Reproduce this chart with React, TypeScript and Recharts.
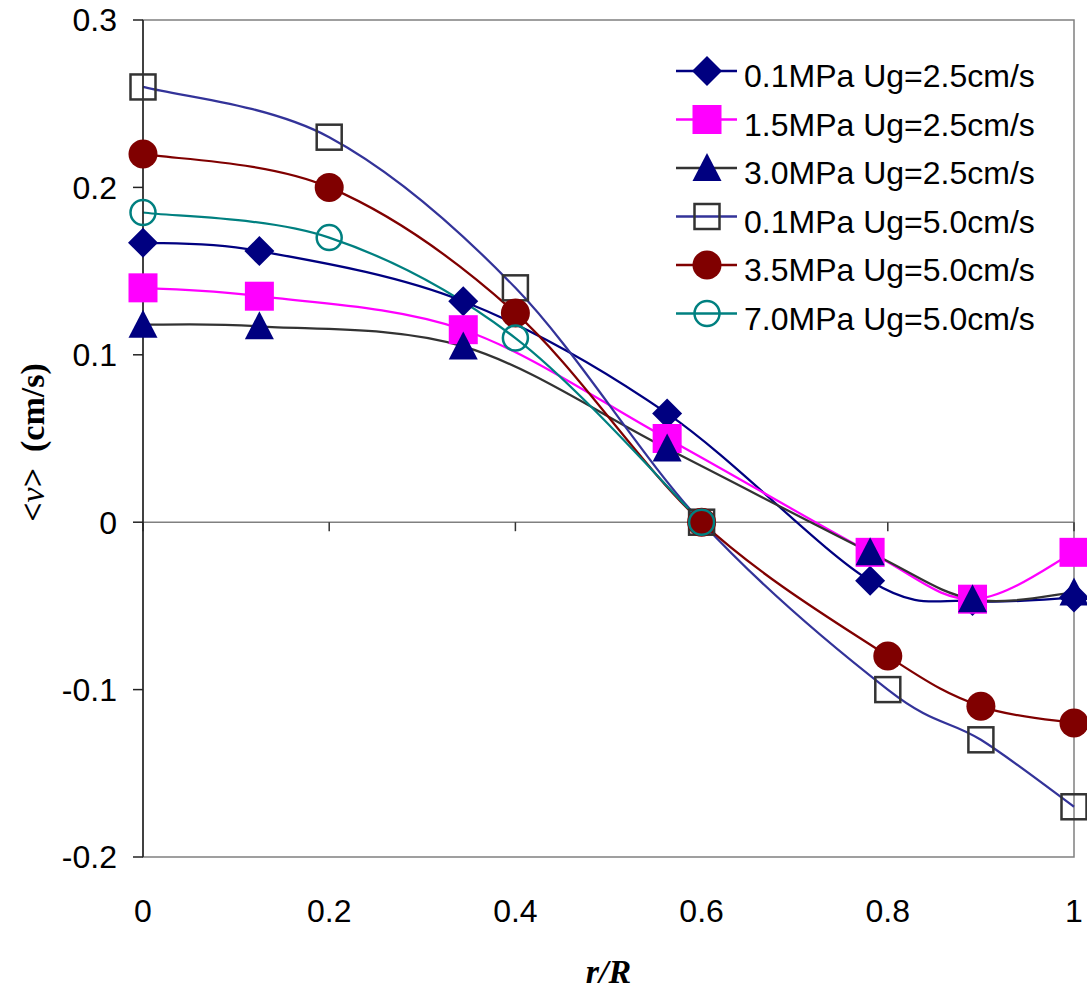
import { LineChart, Line, XAxis, YAxis, ReferenceLine, ReferenceArea, Legend } from "recharts";

// radial position r/R and mean liquid velocity <v> (cm/s)
const X_TICKS = [0, 0.2, 0.4, 0.6, 0.8, 1];
const Y_TICKS = [-0.2, -0.1, 0, 0.1, 0.2, 0.3];

const R_UG25 = [0, 0.125, 0.344, 0.563, 0.781, 0.891, 1];
const R_UG50 = [0, 0.2, 0.4, 0.6, 0.8, 0.9, 1];
const R_UG50_HP = [0, 0.2, 0.4, 0.6];

const V_01_UG25 = [0.167, 0.162, 0.132, 0.065, -0.035, -0.047, -0.045];
const V_15_UG25 = [0.14, 0.135, 0.115, 0.05, -0.018, -0.046, -0.018];
const V_30_UG25 = [0.118, 0.117, 0.105, 0.044, -0.018, -0.046, -0.042];
const V_01_UG50 = [0.26, 0.23, 0.14, 0, -0.1, -0.13, -0.17];
const V_35_UG50 = [0.22, 0.2, 0.125, 0, -0.08, -0.11, -0.12];
const V_70_UG50 = [0.185, 0.17, 0.11, 0];

type Shape = "diamond" | "square" | "triangle" | "openSquare" | "circle" | "openCircle";

const SERIES: { name: string; r: number[]; v: number[]; line: string; mark: string; shape: Shape }[] = [
  { name: "0.1MPa Ug=2.5cm/s", r: R_UG25, v: V_01_UG25, line: "#000080", mark: "#000080", shape: "diamond" },
  { name: "1.5MPa Ug=2.5cm/s", r: R_UG25, v: V_15_UG25, line: "#ff00ff", mark: "#ff00ff", shape: "square" },
  { name: "3.0MPa Ug=2.5cm/s", r: R_UG25, v: V_30_UG25, line: "#333333", mark: "#000080", shape: "triangle" },
  { name: "0.1MPa Ug=5.0cm/s", r: R_UG50, v: V_01_UG50, line: "#333399", mark: "#333333", shape: "openSquare" },
  { name: "3.5MPa Ug=5.0cm/s", r: R_UG50, v: V_35_UG50, line: "#800000", mark: "#800000", shape: "circle" },
  { name: "7.0MPa Ug=5.0cm/s", r: R_UG50_HP, v: V_70_UG50, line: "#008080", mark: "#008080", shape: "openCircle" },
];

const SANS = "'Liberation Sans', Arial, sans-serif";
const SERIF = "'Liberation Serif', 'Times New Roman', serif";

// Excel-style smoothed line (Catmull-Rom through the points)
function excelSmooth(context: any) {
  let pts: number[][] = [];
  return {
    areaStart() {},
    areaEnd() {},
    lineStart() {
      pts = [];
    },
    point(x: number, y: number) {
      pts.push([+x, +y]);
    },
    lineEnd() {
      const n = pts.length;
      if (!n) return;
      context.moveTo(pts[0][0], pts[0][1]);
      for (let i = 0; i < n - 1; i++) {
        const p0 = pts[Math.max(i - 1, 0)];
        const p1 = pts[i];
        const p2 = pts[i + 1];
        const p3 = pts[Math.min(i + 2, n - 1)];
        context.bezierCurveTo(
          p1[0] + (p2[0] - p0[0]) / 6,
          p1[1] + (p2[1] - p0[1]) / 6,
          p2[0] - (p3[0] - p1[0]) / 6,
          p2[1] - (p3[1] - p1[1]) / 6,
          p2[0],
          p2[1]
        );
      }
    },
  };
}

function Marker({ shape, cx, cy, color }: { shape: Shape; cx: number; cy: number; color: string }) {
  switch (shape) {
    case "diamond":
      return <polygon points={`${cx},${cy - 15} ${cx + 15},${cy} ${cx},${cy + 15} ${cx - 15},${cy}`} fill={color} />;
    case "square":
      return <rect x={cx - 14.5} y={cy - 14.5} width={29} height={29} fill={color} />;
    case "triangle":
      return <polygon points={`${cx},${cy - 15} ${cx + 14.5},${cy + 13} ${cx - 14.5},${cy + 13}`} fill={color} />;
    case "openSquare":
      return <rect x={cx - 12.5} y={cy - 12.5} width={25} height={25} fill="none" stroke={color} strokeWidth={2.5} />;
    case "circle":
      return <circle cx={cx} cy={cy} r={14.5} fill={color} />;
    default:
      return <circle cx={cx} cy={cy} r={12.5} fill="none" stroke={color} strokeWidth={2.5} />;
  }
}

function LegendBox() {
  return (
    <svg width={419} height={300}>
      {SERIES.map((s, i) => {
        const cy = 31 + i * 48.5;
        return (
          <g key={s.name}>
            <line x1={8} x2={69} y1={cy} y2={cy} stroke={s.line} strokeWidth={2.5} />
            <Marker shape={s.shape} cx={39} cy={cy} color={s.mark} />
            <text x={76} y={cy + 16} fontFamily={SANS} fontSize={32} fill="#000">
              {s.name}
            </text>
          </g>
        );
      })}
    </svg>
  );
}

// zero line across the plot, with small tick marks hanging below it
function ZeroLine(props: any) {
  const { x1, x2, y1 } = props;
  return (
    <g>
      <line x1={x1} x2={x2} y1={y1} y2={y1} stroke="#808080" strokeWidth={1.5} />
      {X_TICKS.map((t) => {
        const x = x1 + (x2 - x1) * t;
        return <line key={t} x1={x} x2={x} y1={y1} y2={y1 + 9} stroke="#333" strokeWidth={1.5} />;
      })}
    </g>
  );
}

function YTitle(props: any) {
  const vb = props.viewBox;
  const cx = 32;
  const cy = vb.y + vb.height / 2 + 4;
  return (
    <text
      x={cx}
      y={cy}
      transform={`rotate(-90 ${cx} ${cy})`}
      textAnchor="middle"
      dominantBaseline="central"
      fontFamily={SERIF}
      fontWeight="bold"
      fontSize={34}
      fill="#000"
    >
      &lt;<tspan fontStyle="italic" fontWeight="normal">ν</tspan>&gt;<tspan dx={16}>(cm/s)</tspan>
    </text>
  );
}

function XTitle(props: any) {
  const vb = props.viewBox;
  return (
    <text
      x={vb.x + vb.width / 2}
      y={983}
      textAnchor="middle"
      fontFamily={SERIF}
      fontWeight="bold"
      fontStyle="italic"
      fontSize={34}
      fill="#000"
    >
      r/R
    </text>
  );
}

export default function App() {
  return (
    <div style={{ position: "absolute", left: 0, top: 0, fontFamily: SANS }}>
      <LineChart width={1087} height={992} margin={{ top: 20, right: 13, bottom: 0, left: 0 }}>
        <ReferenceArea x1={0} x2={1} y1={-0.2} y2={0.3} fill="none" stroke="#808080" strokeWidth={1.5} />
        <ReferenceLine y={0} shape={ZeroLine} />
        <XAxis
          dataKey="x"
          type="number"
          domain={[0, 1]}
          ticks={X_TICKS}
          height={135}
          axisLine={false}
          tickLine={false}
          tickSize={10}
          tickMargin={32}
          tick={{ fontSize: 32, fill: "#000", fontFamily: SANS }}
          label={XTitle}
        />
        <YAxis
          type="number"
          domain={[-0.2, 0.3]}
          ticks={Y_TICKS}
          width={143}
          axisLine={{ stroke: "#222", strokeWidth: 1.5 }}
          tickLine={{ stroke: "#222", strokeWidth: 1.5 }}
          tickSize={10}
          tickMargin={16}
          tick={{ fontSize: 32, fill: "#000", fontFamily: SANS }}
          label={YTitle}
        />
        {SERIES.map((s) => (
          <Line
            key={s.name}
            name={s.name}
            data={s.r.map((x, i) => ({ x, y: s.v[i] }))}
            dataKey="y"
            type={excelSmooth as any}
            stroke={s.line}
            strokeWidth={2.25}
            dot={(p: any) => <Marker key={`${s.name}-${p.index}`} shape={s.shape} cx={p.cx} cy={p.cy} color={s.mark} />}
            activeDot={false}
            isAnimationActive={false}
          />
        ))}
        <Legend
          layout="vertical"
          align="center"
          verticalAlign="middle"
          wrapperStyle={{ left: 668, top: 40, width: 419, height: 300 }}
          content={() => <LegendBox />}
        />
      </LineChart>
    </div>
  );
}
